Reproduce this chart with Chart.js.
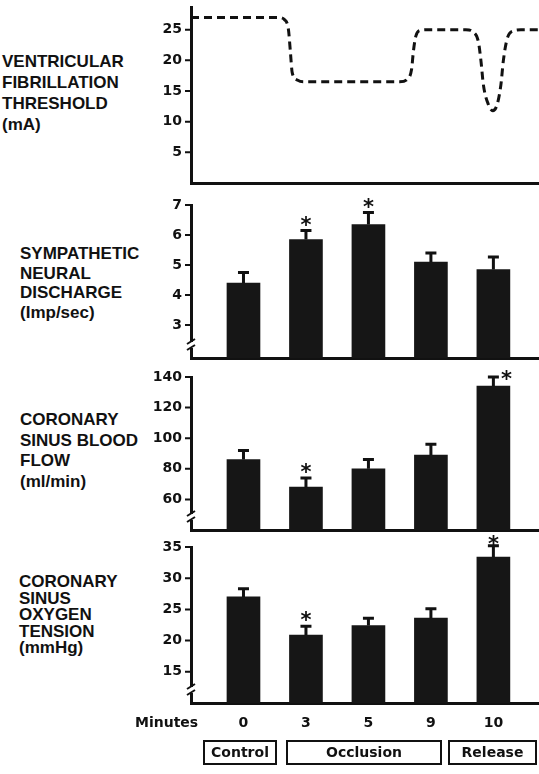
<!DOCTYPE html>
<html>
<head>
<meta charset="utf-8">
<script src="https://cdn.jsdelivr.net/npm/chart.js@4.4.0/dist/chart.umd.min.js"></script>
<style>
body { margin: 0; background: #fff; }
#page { position: relative; width: 539px; height: 774px; overflow: hidden; background: #fff; }
#page canvas { position: absolute; left: 0; }
.label { position: absolute; font: bold 17px "Liberation Sans", Arial, sans-serif; color: #111; white-space: nowrap; }
.minutes { position: absolute; left: 135px; top: 714px; font: bold 14px "DejaVu Sans", sans-serif; line-height: 17px; color: #111; }
.phase { position: absolute; top: 740px; height: 25px; box-sizing: border-box; border: 2px solid #111;
         font: bold 14px "DejaVu Sans", sans-serif; line-height: 21px; text-align: center; color: #111; }
</style>
</head>
<body>
<div id="page">
  <div class="label" style="left:2px;top:51px;line-height:21px">VENTRICULAR<br>FIBRILLATION<br>THRESHOLD<br>(mA)</div>
  <div class="label" style="left:20px;top:244px;line-height:19.5px">SYMPATHETIC<br>NEURAL<br>DISCHARGE<br>(Imp/sec)</div>
  <div class="label" style="left:20px;top:410px;line-height:20.5px">CORONARY<br>SINUS BLOOD<br>FLOW<br>(ml/min)</div>
  <div class="label" style="left:19px;top:574px;line-height:16.5px">CORONARY<br>SINUS<br>OXYGEN<br>TENSION<br>(mmHg)</div>

  <canvas id="vft" width="539" height="212" style="top:-11px"></canvas>
  <canvas id="snd" width="539" height="189" style="top:187px"></canvas>
  <canvas id="csbf" width="539" height="189" style="top:359px"></canvas>
  <canvas id="cspo" width="539" height="217" style="top:520px"></canvas>

  <div class="minutes">Minutes</div>
  <div class="phase" style="left:203px;width:74px">Control</div>
  <div class="phase" style="left:286px;width:156px">Occlusion</div>
  <div class="phase" style="left:448px;width:89px">Release</div>
</div>

<script>
// Time points (minutes), one bar per point
const minuteLabels = ['0', '3', '5', '9', '10'];
const minuteIndex = [0, 1, 2, 3, 4];

// Ventricular fibrillation threshold trace: position on the minutes axis, mA
const vftX = [-0.84, 0.55, 0.66, 0.72, 0.75, 0.78, 0.86, 0.96, 2.5, 2.62, 2.69, 2.72, 2.76, 2.84, 2.95,
              3.56, 3.68, 3.76, 3.80, 3.84, 3.92, 3.99, 4.06, 4.12, 4.16, 4.22, 4.32, 4.44, 4.73];
const vftY = [27, 27, 26.6, 25, 21.5, 18, 16.8, 16.5, 16.5, 16.9, 18.5, 21.5, 24, 24.9, 25,
              25, 24.6, 23, 20, 16, 12.8, 11.8, 12.8, 16, 20, 23.5, 24.8, 25, 25];
const vftTicks = [5, 10, 15, 20, 25];

// Sympathetic neural discharge (imp/sec)
const sndMeans = [4.4, 5.85, 6.35, 5.1, 4.85];
const sndErrors = [0.35, 0.3, 0.4, 0.3, 0.42];
const sndStars = [1, 2];
const sndTicks = [3, 4, 5, 6, 7];

// Coronary sinus blood flow (ml/min)
const csbfMeans = [86, 68, 80, 89, 134];
const csbfErrors = [6, 6, 6, 7, 6];
const csbfStars = [1, 4];
const csbfTicks = [60, 80, 100, 120, 140];

// Coronary sinus oxygen tension (mmHg)
const cspoMeans = [27, 20.9, 22.4, 23.6, 33.4];
const cspoErrors = [1.3, 1.4, 1.2, 1.5, 1.8];
const cspoStars = [1, 4];
const cspoTicks = [15, 20, 25, 30, 35];

const INK = '#111';
const tickFont = { family: 'DejaVu Sans', weight: 'bold', size: 14 };

// Y tick marks, error bars (upper half only), significance stars and axis break marks
const errorBars = {
    id: 'errorBars',
    afterDatasetsDraw(chart, args, opts) {
        const { ctx, chartArea, scales: { y } } = chart;
        ctx.save();
        ctx.strokeStyle = INK;
        ctx.fillStyle = INK;

        ctx.lineWidth = 2;
        ctx.beginPath();
        y.ticks.forEach(t => {
            const py = y.getPixelForValue(t.value);
            ctx.moveTo(chartArea.left - 6, py);
            ctx.lineTo(chartArea.left, py);
        });
        ctx.stroke();

        if (opts.errors) {
            const meta = chart.getDatasetMeta(0);
            const values = chart.data.datasets[0].data;
            meta.data.forEach((bar, i) => {
                const top = y.getPixelForValue(values[i].y + opts.errors[i]);
                ctx.lineWidth = 3;
                ctx.beginPath();
                ctx.moveTo(bar.x, bar.y);
                ctx.lineTo(bar.x, top);
                ctx.moveTo(bar.x - 5.5, top);
                ctx.lineTo(bar.x + 5.5, top);
                ctx.stroke();
                if (opts.stars && opts.stars.includes(i)) {
                    const nudge = (opts.starNudge && opts.starNudge[i]) || [0, 0];
                    ctx.font = 'bold 21px "DejaVu Sans"';
                    ctx.textAlign = 'center';
                    ctx.textBaseline = 'alphabetic';
                    ctx.fillText('*', bar.x + nudge[0], top + 1 + nudge[1]);
                }
            });
        }
        if (opts.breakMark) {
            const x = chartArea.left;
            const yb = chartArea.bottom - 12;
            ctx.fillStyle = '#fff';
            ctx.fillRect(x - 3, yb - 4, 6, 6);
            ctx.lineWidth = 2;
            ctx.beginPath();
            ctx.moveTo(x - 4, yb - 2);
            ctx.lineTo(x + 4, yb - 7);
            ctx.moveTo(x - 4, yb + 4);
            ctx.lineTo(x + 4, yb - 1);
            ctx.stroke();
        }
        ctx.restore();
    }
};
Chart.register(errorBars);

function yAxis(min, max, tickValues) {
    return {
        min: min,
        max: max,
        afterFit: s => { s.width = 191; },
        afterBuildTicks: s => { s.ticks = tickValues.map(v => ({ value: v })); },
        ticks: { color: INK, padding: 9, font: tickFont },
        grid: { drawOnChartArea: false, drawTicks: false },
        border: { display: true, color: INK, width: 3 }
    };
}

function xAxis(showLabels) {
    return {
        type: 'linear',
        offset: false,
        min: -0.84,
        max: 4.73,
        afterFit: s => { s.height = showLabels ? 30 : 0; },
        afterBuildTicks: s => { s.ticks = minuteIndex.map(v => ({ value: v })); },
        ticks: {
            display: showLabels, autoSkip: false, maxRotation: 0, padding: 12,
            color: INK, font: tickFont,
            callback: (v, i) => minuteLabels[i]
        },
        grid: { display: false, drawTicks: false },
        border: { display: true, color: INK, width: 3 }
    };
}

function baseOptions(padTop, padBottom, x, y, plugin) {
    return {
        responsive: false,
        animation: false,
        devicePixelRatio: 1,
        layout: { padding: { top: padTop, bottom: padBottom, left: 0, right: 0 } },
        plugins: { legend: { display: false }, tooltip: { enabled: false }, errorBars: plugin },
        scales: { x: x, y: y }
    };
}

// Top panel: dashed threshold trace
new Chart(document.getElementById('vft'), {
    type: 'line',
    data: {
        datasets: [{
            data: vftX.map((x, i) => ({ x: x, y: vftY[i] })),
            borderColor: INK,
            borderWidth: 3,
            borderDash: [8, 5],
            pointRadius: 0,
            cubicInterpolationMode: 'monotone',
            fill: false
        }]
    },
    options: baseOptions(18, 18, xAxis(false), yAxis(0, 28.7, vftTicks), {})
});

function barChart(id, means, errors, stars, ticks, min, max, padTop, padBottom, showLabels, extra) {
    return new Chart(document.getElementById(id), {
        type: 'bar',
        data: {
            datasets: [{
                data: means.map((v, i) => ({ x: minuteIndex[i], y: v })),
                backgroundColor: '#161616',
                borderWidth: 0,
                barThickness: 33
            }]
        },
        options: baseOptions(padTop, padBottom, xAxis(showLabels), yAxis(min, max, ticks),
            Object.assign({ errors: errors, stars: stars, breakMark: true }, extra))
    });
}

barChart('snd', sndMeans, sndErrors, sndStars, sndTicks, 1.9, 7, 18, 18, false, {});
barChart('csbf', csbfMeans, csbfErrors, csbfStars, csbfTicks, 40, 140, 18, 18, false, { starNudge: { 4: [13, 8] } });
barChart('cspo', cspoMeans, cspoErrors, cspoStars, cspoTicks, 10, 35, 27, 4, true, { starNudge: { 4: [0, 4] } });
</script>
</body>
</html>
